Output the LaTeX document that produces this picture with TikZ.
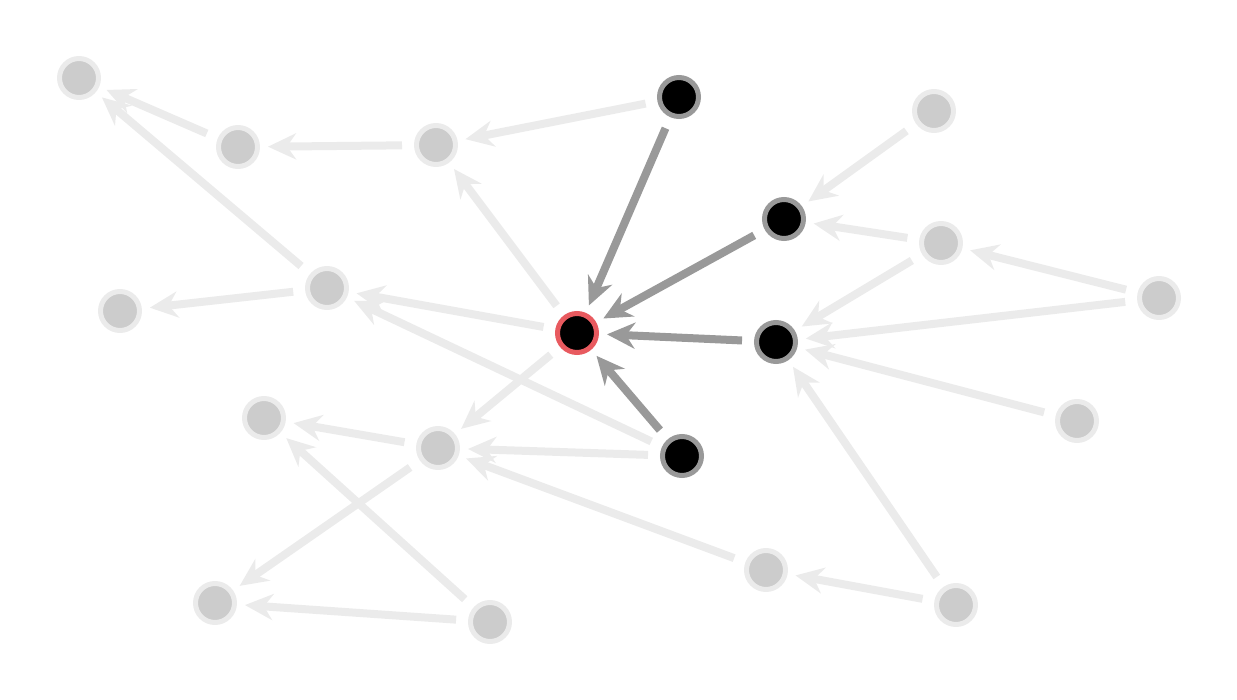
\documentclass[tikz,border=0pt]{standalone}
\usetikzlibrary{arrows.meta}
\definecolor{lightedge}{HTML}{EBEBEB}
\definecolor{darkedge}{HTML}{999999}
\definecolor{grayfill}{HTML}{CCCCCC}
\definecolor{redring}{RGB}{232,90,95}
\begin{document}
\begin{tikzpicture}[x=1pt,y=-1pt,
  base/.style={circle,minimum size=39pt,inner sep=0pt,line width=5pt},
  faded/.style={base,fill=grayfill,draw=lightedge},
  active/.style={base,fill=black,draw=darkedge},
  focus/.style={base,fill=black,draw=redring},
  edgebase/.style={line width=8pt,-{Stealth[length=28pt,width=26pt,inset=9pt]},shorten >=8pt,shorten <=12pt},
  ledge/.style={edgebase,draw=lightedge},
  dedge/.style={edgebase,draw=darkedge}]
\useasboundingbox (0,0) rectangle (1237,700);
\node[faded] (A) at (79,78) {};
\node[faded] (B) at (238,147) {};
\node[faded] (C) at (436,145) {};
\node[active] (D) at (679,97) {};
\node[faded] (E) at (934,111) {};
\node[active] (F) at (784,219) {};
\node[faded] (G) at (941,243) {};
\node[faded] (H) at (1159,298) {};
\node[faded] (I) at (327,288) {};
\node[faded] (J) at (120,311) {};
\node[focus] (K) at (577,333) {};
\node[active] (L) at (776,342) {};
\node[faded] (M) at (1077,421) {};
\node[faded] (N) at (264,418) {};
\node[faded] (O) at (438,448) {};
\node[active] (P) at (682,456) {};
\node[faded] (Q) at (766,570) {};
\node[faded] (R) at (215,603) {};
\node[faded] (S) at (490,622) {};
\node[faded] (T) at (956,605) {};
\draw[ledge] (B) -- (A);
\draw[ledge] (C) -- (B);
\draw[ledge] (D) -- (C);
\draw[ledge] (I) -- (A);
\draw[ledge] (K) -- (C);
\draw[ledge] (E) -- (F);
\draw[ledge] (G) -- (F);
\draw[ledge] (H) -- (G);
\draw[ledge] (G) -- (L);
\draw[ledge] (H) -- (L);
\draw[ledge] (M) -- (L);
\draw[ledge] (T) -- (L);
\draw[ledge] (I) -- (J);
\draw[ledge] (K) -- (I);
\draw[ledge] (P) -- (I);
\draw[ledge] (K) -- (O);
\draw[ledge] (O) -- (N);
\draw[ledge] (P) -- (O);
\draw[ledge] (O) -- (R);
\draw[ledge] (S) -- (N);
\draw[ledge] (S) -- (R);
\draw[ledge] (Q) -- (O);
\draw[ledge] (T) -- (Q);
\draw[dedge] (D) -- (K);
\draw[dedge] (F) -- (K);
\draw[dedge] (L) -- (K);
\draw[dedge] (P) -- (K);
\end{tikzpicture}
\end{document}
